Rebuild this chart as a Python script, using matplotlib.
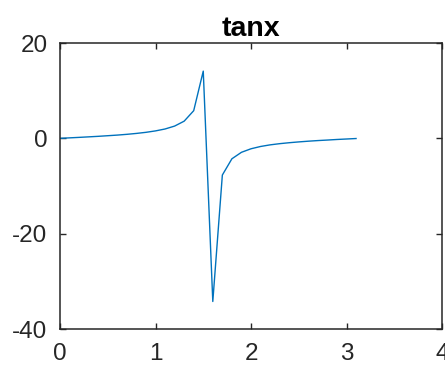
import matplotlib
matplotlib.use("Agg")
import matplotlib.pyplot as plt

x_values = [0.0, 0.1, 0.2, 0.3, 0.4, 0.5, 0.6, 0.7, 0.8, 0.9, 1.0, 1.1, 1.2, 1.3, 1.4, 1.5,
            1.6, 1.7, 1.8, 1.9, 2.0, 2.1, 2.2, 2.3, 2.4, 2.5, 2.6, 2.7, 2.8, 2.9, 3.0, 3.1]
y_values = [0.0, 0.10, 0.20, 0.31, 0.42, 0.55, 0.68, 0.84, 1.03, 1.26, 1.56, 1.96, 2.57, 3.60, 5.80, 14.10,
            -34.23, -7.70, -4.29, -2.93, -2.19, -1.71, -1.37, -1.12, -0.92, -0.75, -0.60, -0.47, -0.36, -0.24, -0.14, -0.04]
x_ticks = [0, 1, 2, 3, 4]
y_ticks = [-40, -20, 0, 20]
title = "tanx"

plt.rcParams['font.family'] = ['Liberation Sans', 'DejaVu Sans']
plt.rcParams['axes.unicode_minus'] = False

fig = plt.figure(figsize=(4.45, 3.71), dpi=100)
ax = fig.add_axes([60/445, 42/371, 382/445, 286/371])
ax.plot(x_values, y_values, color='#0072BD', linewidth=1.0)
ax.set_xlim(0, 4)
ax.set_ylim(-40, 20)
ax.set_xticks(x_ticks)
ax.set_yticks(y_ticks)
ax.tick_params(direction='in', length=4, width=1.0, labelsize=17.5, top=True, right=True,
               colors='#262626')
ax.tick_params(axis='x', pad=10)
ax.tick_params(axis='y', pad=9)
for s in ax.spines.values():
    s.set_linewidth(1.1)
    s.set_color('#262626')
ax.set_title(title, fontsize=20.5, fontweight='bold', pad=5)
fig.savefig("out.png", dpi=100)
